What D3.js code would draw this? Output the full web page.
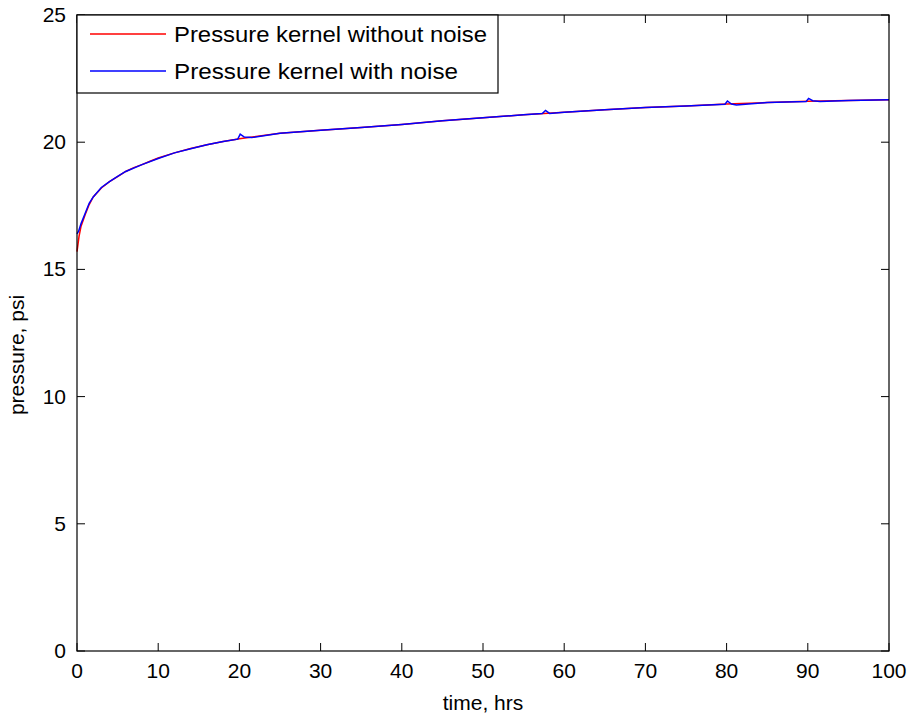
<!DOCTYPE html>
<html><head><meta charset="utf-8">
<script src="https://cdn.jsdelivr.net/npm/d3@7"></script>
<style>body{margin:0;background:#fff}svg{display:block}text{font-family:"Liberation Sans",Arial,sans-serif;fill:#000}</style>
</head><body><svg id="c" width="912" height="719"></svg>
<script>
const cleanTime = [0,0.25,0.5,1,1.5,2,3,4,5,6,7,8,9,10,12,14,16,18,20,25,30,35,40,45,50,55,60,65,70,75,80,85,90,95,100];
const cleanPressure = [15.7,16.3,16.7,17.15,17.55,17.85,18.2,18.45,18.65,18.85,19.0,19.12,19.25,19.38,19.58,19.75,19.9,20.03,20.14,20.35,20.47,20.58,20.7,20.84,20.96,21.08,21.18,21.28,21.36,21.42,21.5,21.56,21.61,21.64,21.67];
const noisyTime = [0,0.2,0.5,1,1.5,2,3,4,5,6,8,10,12,14,16,18,19.8,20.1,20.6,21.5,25,30,35,40,45,50,55,57.3,57.7,58.2,60,65,70,75,79.8,80.1,80.6,81.2,85,89.8,90.1,90.6,91.5,95,100];
const noisyPressure = [16.4,16.5,16.8,17.2,17.6,17.85,18.22,18.45,18.66,18.85,19.12,19.36,19.58,19.74,19.9,20.03,20.12,20.32,20.2,20.18,20.35,20.47,20.58,20.7,20.84,20.96,21.08,21.13,21.25,21.13,21.18,21.28,21.36,21.42,21.49,21.62,21.5,21.46,21.56,21.6,21.72,21.63,21.6,21.64,21.67];
const xTicks = [0,10,20,30,40,50,60,70,80,90,100];
const yTicks = [0,5,10,15,20,25];
const legendLabels = ["Pressure kernel without noise","Pressure kernel with noise"];
const seriesColors = ["#ff0000","#0000ff"];

const L=77,R=889,T=15,B=651;
const svg=d3.select("#c");
const x=d3.scaleLinear().domain([0,100]).range([L,R]);
const y=d3.scaleLinear().domain([0,25]).range([B,T]);
const fs=21;

// ticks inward on all sides
const tk=8;
const g=svg.append("g");
xTicks.forEach(v=>{
  g.append("line").attr("x1",x(v)).attr("x2",x(v)).attr("y1",B).attr("y2",B-tk).attr("stroke","#000");
  g.append("line").attr("x1",x(v)).attr("x2",x(v)).attr("y1",T).attr("y2",T+tk).attr("stroke","#000");
  g.append("text").attr("x",x(v)).attr("y",B+27).attr("text-anchor","middle").attr("font-size",fs).text(v);
});
yTicks.forEach(v=>{
  g.append("line").attr("x1",L).attr("x2",L+tk).attr("y1",y(v)).attr("y2",y(v)).attr("stroke","#000");
  g.append("line").attr("x1",R).attr("x2",R-tk).attr("y1",y(v)).attr("y2",y(v)).attr("stroke","#000");
  g.append("text").attr("x",L-11).attr("y",y(v)+7).attr("text-anchor","end").attr("font-size",fs).text(v);
});

const line=d3.line().x(d=>x(d[0])).y(d=>y(d[1]));
svg.append("path").datum(cleanTime.map((t,i)=>[t,cleanPressure[i]])).attr("d",line).attr("fill","none").attr("stroke",seriesColors[0]).attr("stroke-width",1.5);
svg.append("path").datum(noisyTime.map((t,i)=>[t,noisyPressure[i]])).attr("d",line).attr("fill","none").attr("stroke",seriesColors[1]).attr("stroke-width",1.5);

svg.append("rect").attr("x",L).attr("y",T).attr("width",R-L).attr("height",B-T).attr("fill","none").attr("stroke","#000").attr("stroke-width",1.2);

// legend
const lg=svg.append("g");
lg.append("rect").attr("x",L).attr("y",T).attr("width",421).attr("height",78).attr("fill","#fff").attr("stroke","#000").attr("stroke-width",1.2);
legendLabels.forEach((s,i)=>{
  const yy=34+i*37;
  lg.append("line").attr("x1",90).attr("x2",166).attr("y1",yy).attr("y2",yy).attr("stroke",seriesColors[i]).attr("stroke-width",1.5);
  lg.append("text").attr("x",174).attr("y",yy+8).attr("font-size",22).attr("textLength",i==0?313:284).attr("lengthAdjust","spacingAndGlyphs").text(s);
});

svg.append("text").attr("x",x(50)).attr("y",710).attr("text-anchor","middle").attr("font-size",fs).text("time, hrs");
svg.append("text").attr("transform","translate(24,355) rotate(-90)").attr("text-anchor","middle").attr("font-size",fs).text("pressure, psi");
</script></body></html>
